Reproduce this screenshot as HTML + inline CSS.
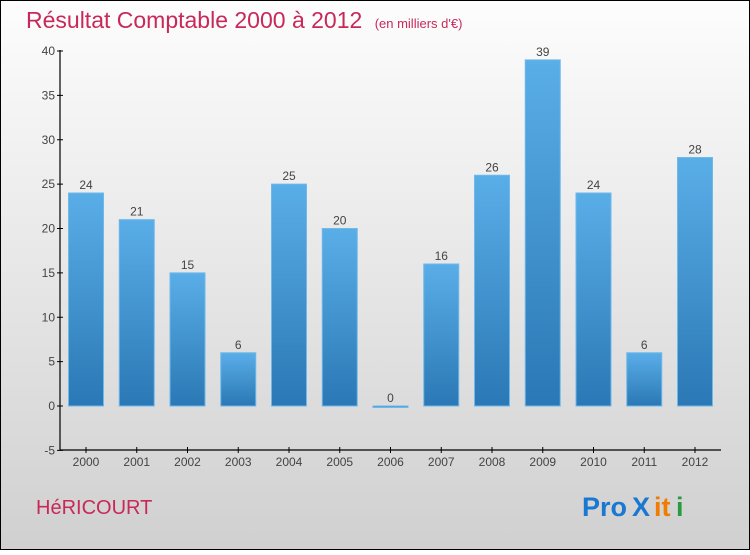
<!DOCTYPE html>
<html><head><meta charset="utf-8"><style>
body{margin:0;width:750px;height:550px;overflow:hidden;font-family:"Liberation Sans",sans-serif}
</style></head><body>
<svg width="750" height="550" xmlns="http://www.w3.org/2000/svg">
<defs>
<linearGradient id="bg" x1="0" y1="0" x2="0" y2="1"><stop offset="0" stop-color="#fdfdfd"/><stop offset="1" stop-color="#d0d0d0"/></linearGradient>
<linearGradient id="bar" x1="0" y1="0" x2="0" y2="1"><stop offset="0" stop-color="#5aaee8"/><stop offset="1" stop-color="#2a78b5"/></linearGradient>
</defs>
<rect x="0.5" y="0.5" width="749" height="549" fill="url(#bg)" stroke="#000"/>
<text x="26" y="28" font-size="23" fill="#c8285a">Résultat Comptable 2000 à 2012 <tspan font-size="13" dx="6">(en milliers d'€)</tspan></text>
<g id="plot"></g>
<text x="36" y="514" font-size="20" fill="#c8285a">HéRICOURT</text>
<g font-size="27" font-weight="bold">
<text x="582" y="516" fill="#1a78d0">Pro</text><text x="632" y="516" fill="#1a78d0">X</text><text x="654" y="516" fill="#f07d00">it</text><text x="676" y="516" fill="#2a9a40">i</text>
</g>
</svg>
<script>
const years=["2000","2001","2002","2003","2004","2005","2006","2007","2008","2009","2010","2011","2012"];
const values=[24,21,15,6,25,20,0,16,26,39,24,6,28];
const yTicks=[-5,0,5,10,15,20,25,30,35,40];
const NS="http://www.w3.org/2000/svg";
const g=document.getElementById('plot');
const y=v=>406-v*8.875;
const x=i=>86+i*50.75;
function mk(t,a,txt){const e=document.createElementNS(NS,t);for(const k in a)e.setAttribute(k,a[k]);if(txt!==undefined)e.textContent=txt;g.appendChild(e);return e;}
let e=mk('line',{x1:60,y1:50,x2:60,y2:450,stroke:'#000','stroke-width':1.2});


e=mk('line',{x1:60,y1:450,x2:721,y2:450,stroke:'#000','stroke-width':1.2});


yTicks.forEach(t=>{
 const yy=y(t);
 mk('line',{x1:57,y1:yy,x2:63,y2:yy,stroke:'#000'});
 e=mk('text',{x:55,y:yy+4,'text-anchor':'end','font-size':12,fill:'#444'},t);
 
 
});
years.forEach((yr,i)=>{
 const cx=x(i),v=values[i];
 mk('line',{x1:cx,y1:447,x2:cx,y2:453,stroke:'#000'});
 e=mk('text',{x:cx,y:466,'text-anchor':'middle','font-size':12,fill:'#444'},yr);
 
 
 const top=Math.min(y(v),y(0)),h=Math.max(Math.abs(y(v)-y(0)),1.5);
 e=mk('rect',{x:cx-17.5,y:top,width:35,height:h,fill:'url(#bar)',stroke:'#6fb8ea','stroke-width':1});
 
 
 e=mk('text',{x:cx,y:top-4,'text-anchor':'middle','font-size':12,fill:'#444'},v);
 
 
});
</script>
</body></html>
